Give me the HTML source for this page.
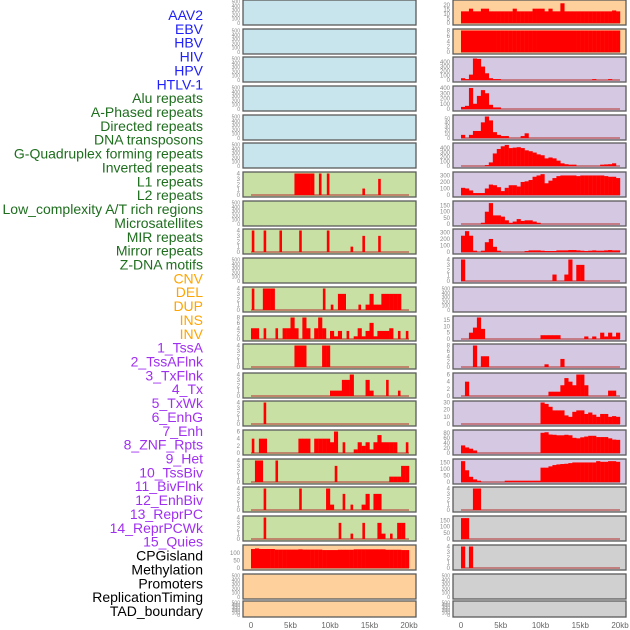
<!DOCTYPE html>
<html><head><meta charset="utf-8"><style>
html,body{margin:0;padding:0;background:#fff;}
svg{display:block;font-family:"Liberation Sans",sans-serif;}
</style></head><body>
<svg id="chart" width="630" height="630" viewBox="0 0 630 630" xmlns="http://www.w3.org/2000/svg"></svg>
<script>
// ---- labels ----
const labelNames = ["AAV2","EBV","HBV","HIV","HPV","HTLV-1","Alu repeats","A-Phased repeats","Directed repeats","DNA transposons","G-Quadruplex forming repeats","Inverted repeats","L1 repeats","L2 repeats","Low_complexity A/T rich regions","Microsatellites","MIR repeats","Mirror repeats","Z-DNA motifs","CNV","DEL","DUP","INS","INV","1_TssA","2_TssAFlnk","3_TxFlnk","4_Tx","5_TxWk","6_EnhG","7_Enh","8_ZNF_Rpts","9_Het","10_TssBiv","11_BivFlnk","12_EnhBiv","13_ReprPC","14_ReprPCWk","15_Quies","CPGisland","Methylation","Promoters","ReplicationTiming","TAD_boundary"];
const labelGroups = [6,13,5,15,5];
const groupColors = ["#2020f8","#1e6e1e","#ffa500","#a030f0","#000000"];

// ---- x axis ----
const xTickKb = [0,5,10,15,20];
const xTickLabels = ["0","5kb","10kb","15kb","20kb"];

// ---- left column panels: [bin(0.5kb), value] ----
const L01=[],L02=[],L03=[],L04=[],L05=[],L06=[],L08=[],L10=[],L21=[],L22=[];
const L07=[[11,4],[12,4],[13,4],[14,4],[15,4],[17,4],[19,4],[28,1.2],[32,3]];
const L09=[[0,4],[3,4],[7,4],[12,4],[19,4],[25,1],[28,3],[32,3]];
const L11=[[0,4],[3,4],[4,4],[5,4],[18,4],[20,1],[22,3],[23,3],[27,1],[29,1],[30,3],[31,1],[32,1],[33,3],[34,3],[35,3],[36,3],[37,3]];
const L12=[[0,4],[1,4],[3,4],[6,4],[8,4],[9,4],[10,8],[11,4],[13,8],[14,4],[16,4],[17,8],[18,4],[20,3],[21,1],[22,3],[24,3],[26,1],[27,4],[28,1],[29,3],[30,6],[31,1],[32,3],[33,3],[34,3],[35,4],[37,3],[39,3]];
const L13=[[11,4],[12,4],[13,4],[18,4],[19,4]];
const L14=[[20,1],[21,1],[22,1],[23,3],[24,3],[25,4],[29,3],[30,1],[34,3],[37,1]];
const L15=[[3,4]];
const L16=[[0,4],[2,4],[3,4],[12,4],[13,4],[14,4],[16,4],[17,4],[18,4],[19,4],[20,3],[21,6],[23,3],[26,1],[27,3],[28,2],[29,3],[30,1],[31,3],[32,5],[33,3],[34,3],[35,3],[36,3],[39,3]];
const L17=[[1,4],[2,4],[6,4],[21,3],[35,1],[36,1],[37,1],[38,3],[39,3]];
const L18=[[3,4],[12,4],[19,4],[20,1],[23,3],[25,1],[28,1],[29,3],[31,3],[32,3]];
const L19=[[3,4],[22,3],[25,1],[28,3],[32,3],[33,1],[35,1],[37,3],[38,3]];
const L20=[[0,128],[1,132],[2,128],[3,128],[4,128],[5,128],[6,124],[7,124],[8,124],[9,124],[10,124],[11,124],[12,126],[13,124],[14,124],[15,124],[16,124],[17,124],[18,121],[19,121],[20,121],[21,121],[22,123],[23,123],[24,123],[25,123],[26,126],[27,126],[28,126],[29,126],[30,126],[31,126],[32,126],[33,126],[34,123],[35,123],[36,123],[37,123],[38,121],[39,121]];

// ---- right column panels ----
const R11=[],R21=[],R22=[];
const R01=[[0,13],[1,13],[2,16],[3,13],[4,13],[5,16],[6,16],[7,13],[8,13],[9,13],[10,13],[11,13],[12,13],[13,16],[14,13],[15,13],[16,13],[17,13],[18,16],[19,16],[20,16],[21,13],[22,16],[23,13],[24,13],[25,22],[26,13],[27,13],[28,13],[29,13],[30,13],[31,13],[32,13],[33,13],[34,13],[35,13],[36,13],[37,13],[38,14],[39,13]];
const R02=[[0,8],[1,8],[2,8],[3,8],[4,8],[5,8],[6,8],[7,8],[8,8],[9,8],[10,8],[11,8],[12,8],[13,8],[14,8],[15,8],[16,8],[17,8],[18,8],[19,8],[20,8],[21,8],[22,8],[23,8],[24,8],[25,8],[26,8],[27,8],[28,8],[29,8],[30,8],[31,8],[32,8],[33,8],[34,8],[35,8],[36,8],[37,8],[38,8],[39,8]];
const R03=[[0,40],[1,20],[2,120],[3,480],[4,470],[5,300],[6,150],[7,40],[8,20],[9,20],[33,20],[37,20]];
const R04=[[0,40],[1,60],[2,400],[3,100],[4,250],[5,360],[6,300],[7,80],[8,30],[9,30]];
const R05=[[0,8],[2,8],[3,18],[4,18],[5,40],[6,55],[7,45],[8,15],[9,8],[10,5],[11,5],[15,5],[16,12]];
const R06=[[6,20],[7,80],[8,280],[9,380],[10,440],[11,470],[12,400],[13,410],[14,420],[15,400],[16,350],[17,330],[18,300],[19,260],[20,240],[21,170],[22,190],[23,170],[24,120],[25,60],[26,40],[27,30],[28,30],[35,30],[36,35],[37,40],[38,60]];
const R07=[[0,110],[1,100],[2,70],[3,30],[4,30],[5,30],[6,100],[7,160],[8,150],[9,120],[10,60],[11,110],[12,150],[13,150],[14,130],[15,200],[16,210],[17,230],[18,280],[19,300],[20,320],[21,180],[22,220],[23,260],[24,290],[25,300],[26,300],[27,300],[28,300],[29,290],[30,300],[31,300],[32,300],[33,300],[34,300],[35,300],[36,290],[37,280],[38,280],[39,260]];
const R08=[[5,10],[6,100],[7,170],[8,70],[9,70],[10,60],[11,30],[12,10],[13,20],[14,40],[15,25],[16,30],[17,30],[18,20],[19,10]];
const R09=[[0,250],[1,320],[2,250],[3,20],[5,20],[6,150],[7,200],[8,80],[9,20],[16,15],[17,25],[18,25],[19,25],[20,20],[21,15],[22,15],[23,15],[24,25],[25,25],[26,25],[27,30],[28,30],[29,25],[30,20],[31,15],[32,20],[33,25],[34,20],[35,20],[36,25],[37,30],[38,25],[39,25]];
const R10=[[0,4],[23,1.2],[26,1.2],[27,4],[29,3],[30,3]];
const R12=[[2,5],[3,9],[4,17],[5,8],[20,3],[21,3],[22,3],[23,3],[24,3],[31,2],[33,2],[35,5],[36,2],[37,5],[38,2],[39,5]];
const R13=[[3,8],[5,4],[6,4],[21,1],[25,3]];
const R14=[[1,4],[22,1.2],[23,1.2],[24,1.2],[25,3],[26,5],[27,4],[28,3],[29,6],[30,6],[31,3],[37,1.5],[38,1.5]];
const R15=[[20,30],[21,28],[22,24],[23,19],[24,19],[25,19],[26,12],[27,10],[28,17],[29,19],[30,19],[31,14],[32,16],[33,13],[34,10],[35,14],[36,14],[37,10],[38,11],[39,10]];
const R16=[[0,30],[1,22],[2,17],[3,10],[20,80],[21,82],[22,73],[23,72],[24,70],[25,70],[26,72],[27,70],[28,60],[29,58],[30,62],[31,65],[32,68],[33,68],[34,63],[35,63],[36,63],[37,58],[38,53],[39,52]];
const R17=[[0,160],[1,90],[2,40],[3,20],[4,10],[11,10],[12,10],[13,10],[14,10],[15,10],[16,10],[17,10],[18,10],[19,10],[20,110],[21,110],[22,120],[23,130],[24,135],[25,138],[26,140],[27,145],[28,150],[29,150],[30,150],[31,150],[32,150],[33,150],[34,160],[35,155],[36,155],[37,160],[38,160],[39,155]];
const R18=[[3,4],[4,4]];
const R19=[[0,170],[1,170]];
const R20=[[0,4],[2,4]];

const leftData=[L01,L02,L03,L04,L05,L06,L07,L08,L09,L10,L11,L12,L13,L14,L15,L16,L17,L18,L19,L20,L21,L22];
const rightData=[R01,R02,R03,R04,R05,R06,R07,R08,R09,R10,R11,R12,R13,R14,R15,R16,R17,R18,R19,R20,R21,R22];
const T500=[0,100,200,300,400,500], T4=[0,1,2,3,4];
const leftMax=[500,500,500,500,500,500,4,500,4,500,4,8,4,4,4,6,4,4,4,145,500,500];
const leftTicks=[T500,T500,T500,T500,T500,T500,T4,T500,T4,T500,T4,[0,2,4,6,8],T4,T4,T4,[0,2,4,6],T4,T4,T4,[0,50,100],T500,T500];
const rightMax=[24,8,480,410,55,480,330,175,330,4,500,17,8,6,30,85,165,4,175,4,500,500];
const rightTicks=[[0,5,10,15,20],[0,2,4,6,8],[0,100,200,300,400],[0,100,200,300,400],[0,10,20,30,40,50],[0,100,200,300,400],[0,100,200,300],[0,50,100,150],[0,100,200,300],T4,T500,[0,5,10,15],[0,2,4,6,8],[0,2,4,6],[0,10,20,30],[0,20,40,60,80],[0,50,100,150],T4,[0,50,100,150],T4,T500,T500];

// ---- layout ----
const tops=[0,29,57,86,115,143,172,201,229,258,287,316,344,373,401,430,459,487,516,545,574,601];
const NS="http://www.w3.org/2000/svg";
const svg=document.getElementById("chart");
const cols=[{x0:243,x1:416,z:251,s:7.9,data:leftData,max:leftMax,ticks:leftTicks,name:"left"},
            {x0:453,x1:626,z:461,s:7.95,data:rightData,max:rightMax,ticks:rightTicks,name:"right"}];
function leftFill(i){return i<6?"#c8e4ec":(i<19?"#c8e0a4":"#fdd09c");}
function rightFill(i){return i<2?"#fdd09c":(i<17?"#d4c8e2":"#d0d0d0");}
function mk(tag,attrs){const e=document.createElementNS(NS,tag);for(const k in attrs)e.setAttribute(k,attrs[k]);return e;}
function xScale(c,kb){return c.z+kb*c.s;}
function yScale(T,h,max,v){const y0=T+h-2,yt=T+1.5;return y0-(v/max)*(y0-yt);}

cols.forEach((c,ci)=>{
  tops.forEach((T,i)=>{
    const h=(i===21)?16:25;
    const g=mk("g",{});
    
    
    const bg=mk("rect",{x:c.x0,y:T,width:c.x1-c.x0,height:h,fill:ci===0?leftFill(i):rightFill(i),stroke:"#5a5a5a","stroke-width":1.3});
    
    
    g.appendChild(bg);
    const max=c.max[i], ticks=c.ticks[i];
    const fs=(ticks.length>5)?5:6;
    ticks.forEach(t=>{
      const tx=mk("text",{x:c.x0-3,y:yScale(T,h,max,t)+2,"text-anchor":"end","font-size":fs,fill:"#888"});
      tx.textContent=String(t);
      
      
      g.appendChild(tx);
    });
    const d=c.data[i];
    const y0=yScale(T,h,max,0);
    if(d.length){
      const bl=mk("line",{x1:xScale(c,0),x2:xScale(c,20),y1:y0,y2:y0,stroke:"#b84040","stroke-width":1.6,opacity:0.75});
      
      
      g.appendChild(bl);
    }
    const bins=d.map(p=>p[0]);
    d.forEach(p=>{
      const bin=p[0],v=p[1];
      let xa=xScale(c,bin*0.5),xb=xScale(c,(bin+1)*0.5)+0.2;
      const isolated=ci===0&&i<19&&!bins.includes(bin-1)&&!bins.includes(bin+1);
      if(isolated){const m=(xa+xb)/2;xa=m-1.3;xb=m+1.3;}
      const yv=yScale(T,h,max,v);
      const r=mk("rect",{x:xa,y:yv,width:xb-xa,height:Math.max(0,y0-yv),fill:"#ff0000"});
      
      
      g.appendChild(r);
    });
    svg.appendChild(g);
  });
  xTickKb.forEach((kb,k)=>{
    const t=mk("text",{x:xScale(c,kb),y:628,"text-anchor":"middle","font-size":8,fill:"#666"});
    t.textContent=xTickLabels[k];
    
    
    svg.appendChild(t);
  });
});

// ---- track labels ----
let gi=0,cnt=0;
labelNames.forEach((n,i)=>{
  while(cnt>=labelGroups[gi]){gi++;cnt=0;}
  cnt++;
  const t=mk("text",{x:203,y:15+i*13.86+5,"text-anchor":"end","font-size":14,fill:groupColors[gi]});
  t.textContent=n;
  
  
  svg.appendChild(t);
});
</script>
</body></html>
